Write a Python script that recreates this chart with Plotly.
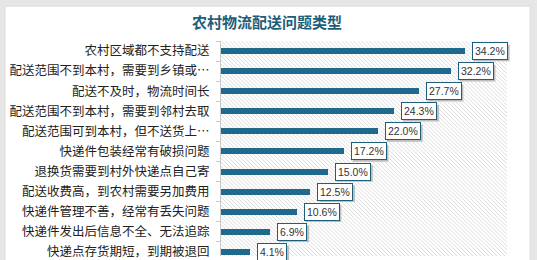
import plotly.graph_objects as go

categories = [
    "农村区域都不支持配送",
    "配送范围不到本村，需要到乡镇或…",
    "配送不及时，物流时间长",
    "配送范围不到本村，需要到邻村去取",
    "配送范围可到本村，但不送货上…",
    "快递件包装经常有破损问题",
    "退换货需要到村外快递点自己寄",
    "配送收费高，到农村需要另加费用",
    "快递件管理不善，经常有丢失问题",
    "快递件发出后信息不全、无法追踪",
    "快递点存货期短，到期被退回",
]
values = [34.2, 32.2, 27.7, 24.3, 22.0, 17.2, 15.0, 12.5, 10.6, 6.9, 4.1]
value_labels = [f"{v:.1f}%" for v in values]
title_text = "农村物流配送问题类型"

W, H = 537, 260
ML, MR, MT, MB = 221, 30, 40.5, 0
PW, PH = W - ML - MR, H - MT - MB
XMAX = 40.1
ROW = 20.5
Y0 = -0.5
Y1 = Y0 + PH / ROW

BAR_COLOR = "#1f6a8c"
TEAL = "#1d5e7a"
LABEL_FS = 10.5
XSHIFT = 7

fig = go.Figure()
fig.add_trace(go.Bar(
    y=categories, x=values, orientation="h",
    marker=dict(color=BAR_COLOR, line=dict(width=0)),
    width=0.3, hoverinfo="skip",
))

shapes = []
px2x = lambda px: (px - ML) / PW
py2y = lambda py: 1 - (py - MT) / PH
# card background
shapes.append(dict(type="rect", xref="paper", yref="paper",
                   x0=px2x(5), x1=px2x(530), y0=py2y(300), y1=py2y(5),
                   fillcolor="white", line=dict(color="#dddddd", width=1), layer="below"))
# hatch lines ("\" direction)
sp = 4
kx = XMAX / PW
ky = 1 / ROW
px = -PH
while px < PW:
    shapes.append(dict(type="line", xref="x", yref="y",
                       x0=px * kx, y0=Y0, x1=(px + PH) * kx, y1=Y0 + PH * ky,
                       line=dict(color="#dcdcdc", width=1), layer="below"))
    px += sp

def text_w(t, fs):
    w = 0
    for ch in t:
        if ch.isdigit():
            w += 0.556
        elif ch == ".":
            w += 0.278
        elif ch == "%":
            w += 0.889
        else:
            w += 0.6
    return w * fs

annotations = []
for i, (v, t) in enumerate(zip(values, value_labels)):
    bw = text_w(t, LABEL_FS) + 2 * 2 + 2
    bh = 17
    # shadow box (offset 2px right / down)
    left = v / XMAX + (XSHIFT + 2) / PW
    cy = (i - Y0) * ROW  # px from plot top
    shapes.append(dict(type="rect", xref="paper", yref="paper",
                       x0=left, x1=left + bw / PW,
                       y0=1 - (cy + bh / 2 + 2) / PH, y1=1 - (cy - bh / 2 + 2) / PH,
                       fillcolor="#bdbdbd", line=dict(width=0), layer="above"))
    annotations.append(dict(x=v, y=categories[i], xref="x", yref="y", text=t, showarrow=False,
                            xanchor="left", xshift=XSHIFT,
                            font=dict(size=LABEL_FS, color="#333333", family="Liberation Sans, Arial"),
                            bgcolor="white", bordercolor=TEAL, borderwidth=1, borderpad=2))

fig.update_layout(
    width=W, height=H,
    margin=dict(l=ML, r=MR, t=MT, b=MB, pad=0),
    paper_bgcolor="#e6e6e6",
    plot_bgcolor="rgba(0,0,0,0)",
    showlegend=False,
    title=dict(text=title_text, x=267 / W, xanchor="center", y=1 - 23 / H, yanchor="middle",
               font=dict(size=15, color=TEAL, family="Noto Sans CJK SC", weight="bold")),
    xaxis=dict(range=[0, XMAX], showgrid=False, zeroline=False, showticklabels=False,
               showline=False, ticks=""),
    yaxis=dict(type="category", range=[Y1, Y0], showgrid=False, zeroline=False,
               showline=True, linecolor="#c8c8c8", linewidth=1,
               ticks="outside", ticklen=4, tickcolor="#c8c8c8", tickson="boundaries",
               ticklabelstandoff=8,
               tickfont=dict(size=12.5, color="#222222", family="Noto Sans CJK SC")),
    shapes=shapes,
    annotations=annotations,
    bargap=0,
)

fig.write_html("out.html")
